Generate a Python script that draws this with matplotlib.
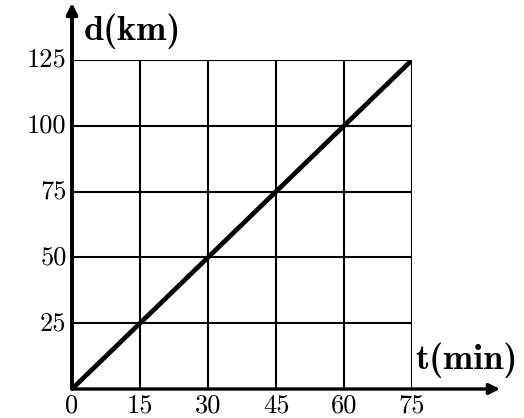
import matplotlib
matplotlib.use("Agg")
import matplotlib.pyplot as plt

# time (min) vs distance (km)
t = [0, 15, 30, 45, 60, 75]
d = [0, 25, 50, 75, 100, 125]
xticks = [0, 15, 30, 45, 60, 75]
yticks = [25, 50, 75, 100, 125]

fig = plt.figure(figsize=(5.24, 4.18), dpi=100)
ax = fig.add_axes([72/524, 29/418, 340/524, 329/418])
ax.set_xlim(0, 75)
ax.set_ylim(0, 125)

# grid
for x in xticks[1:]:
    ax.axvline(x, color="black", lw=1.5, zorder=1)
for y in yticks:
    ax.axhline(y, color="black", lw=1.5, zorder=1)

ax.plot(t, d, color="black", lw=3.4, zorder=3, solid_capstyle="round")

for s in ax.spines.values():
    s.set_visible(False)
ax.set_xticks([])
ax.set_yticks([])

# axes with arrows, extending past the plot area
ax.annotate("", xy=(428/340, 0), xytext=(0, 0), xycoords="axes fraction",
            arrowprops=dict(arrowstyle="-|>", color="black", lw=2.4,
                            mutation_scale=16, shrinkA=0, shrinkB=0),
            annotation_clip=False, zorder=4)
ax.annotate("", xy=(0, 386/329), xytext=(0, 0), xycoords="axes fraction",
            arrowprops=dict(arrowstyle="-|>", color="black", lw=2.8,
                            mutation_scale=16, shrinkA=0, shrinkB=0),
            annotation_clip=False, zorder=4)

tick_font = dict(family="cmr10", fontsize=19, color="black")
for x in xticks:
    ax.text(x, -2.0, str(x), ha="center", va="top", **tick_font)
for y in yticks:
    ax.text(-1.2, y, str(y), ha="right", va="center", **tick_font)

label_font = dict(family="cmb10", fontsize=26, color="black")
ax.text(2.5, 129, "d(km)", ha="left", va="bottom", **label_font)
ax.text(75.8, 4, "t(min)", ha="left", va="bottom", **label_font)

fig.savefig("out.png", dpi=100, facecolor="white")
